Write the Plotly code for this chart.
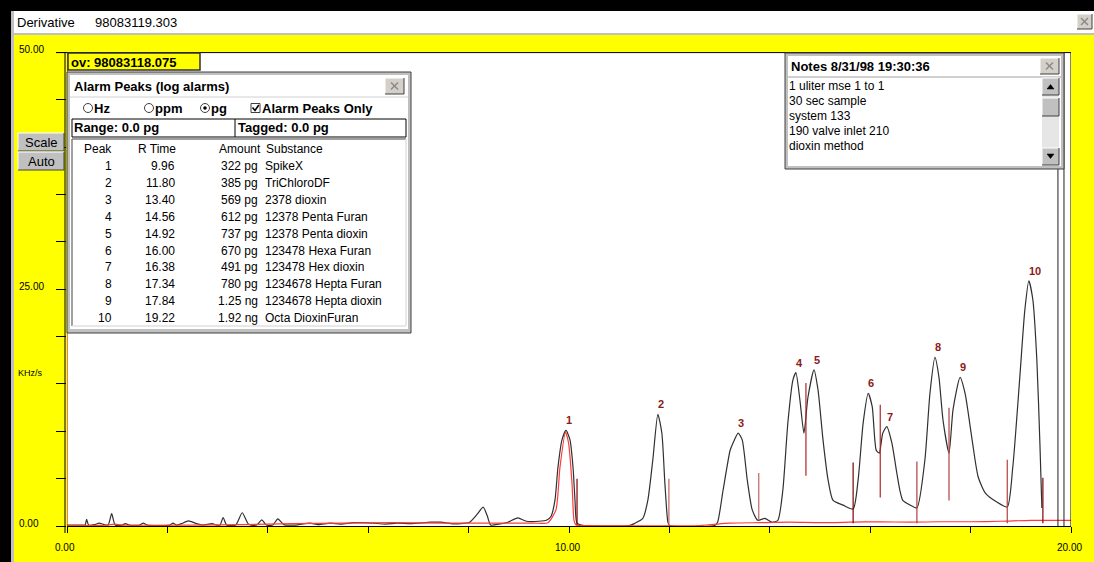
import plotly.graph_objects as go

W, H = 1094, 562
FONT = "Liberation Sans, Arial, sans-serif"
YELLOW = "#ffff00"
GRAY = "#c0c0c0"

# ---- chromatogram data (time in min, signal in KHz/s) ----
trace_t = [0.00, 0.30, 0.36, 0.39, 0.43, 0.55, 0.64, 0.74, 0.82, 0.89, 0.96, 1.10, 1.16, 1.24,
           1.45, 1.52, 1.60, 2.05, 2.11, 2.18, 2.28, 2.42, 2.58, 2.70, 2.89, 2.98, 3.05, 3.11,
           3.18, 3.36, 3.49, 3.62, 3.78, 3.88, 3.97, 4.10, 4.20, 4.32, 4.55, 4.84, 5.00, 5.24,
           5.45, 5.70, 5.90, 6.10, 6.35, 6.57, 6.85, 7.25, 7.45, 7.65, 7.83, 8.02, 8.18, 8.29,
           8.37, 8.44, 8.60, 8.78, 8.98, 9.15, 9.40, 9.55, 9.64, 9.72, 9.78, 9.86, 9.94, 10.02,
           10.08, 10.12, 10.16, 10.30, 11.20, 11.30, 11.47, 11.57, 11.67, 11.77, 11.85, 11.91,
           11.97, 12.00, 12.90, 12.96, 13.07, 13.21, 13.27, 13.37, 13.45, 13.55, 13.65, 13.76,
           13.90, 14.04, 14.16, 14.26, 14.36, 14.46, 14.52, 14.60, 14.68, 14.76, 14.88, 14.96,
           15.06, 15.16, 15.26, 15.46, 15.66, 15.76, 15.86, 15.96, 16.04, 16.12, 16.18, 16.25,
           16.33, 16.43, 16.53, 16.59, 16.65, 16.80, 16.93, 17.09, 17.19, 17.29, 17.37, 17.45,
           17.57, 17.65, 17.79, 17.89, 18.03, 18.15, 18.29, 18.53, 18.73, 18.84, 18.98, 19.08,
           19.16, 19.24, 19.32, 19.38, 19.42]
trace_v = [0.10, 0.10, 0.10, 0.70, 0.10, 0.15, 0.30, 0.15, 0.10, 1.30, 0.10, 0.10, 0.25, 0.10,
           0.10, 0.30, 0.10, 0.10, 0.30, 0.10, 0.25, 0.55, 0.25, 0.10, 0.25, 0.10, 0.10, 0.90,
           0.10, 0.10, 1.40, 0.15, 0.10, 0.65, 0.10, 0.10, 0.75, 0.15, 0.10, 0.30, 0.15, 0.30,
           0.20, 0.35, 0.35, 0.30, 0.20, 0.30, 0.25, 0.40, 0.40, 0.25, 0.25, 0.40, 1.30, 2.00,
           1.10, 0.10, 0.20, 0.40, 0.85, 0.50, 0.50, 0.60, 1.00, 2.70, 6.20, 9.10, 10.10, 9.10,
           6.20, 2.70, 0.30, 0.05, 0.05, 0.25, 0.80, 2.70, 7.00, 11.80, 9.80, 4.50,
           0.40, 0.05, 0.05, 0.40, 3.80, 8.00, 8.80, 9.80, 9.10, 4.90, 1.70, 0.60,
           0.80, 0.40, 0.60, 3.80, 10.90, 15.40, 16.20, 13.30, 9.80, 13.60, 16.50, 14.40,
           9.10, 4.90, 2.70, 2.20, 1.80, 4.90, 10.90, 14.00, 12.60, 8.00, 7.70, 9.80,
           10.50, 8.80, 5.60, 3.80, 2.70, 2.20, 1.90, 7.00, 14.00, 17.80, 15.70, 11.20,
           7.70, 12.30, 15.70, 14.00, 9.10, 5.20, 3.50, 2.50, 2.00, 6.20, 15.70, 22.80,
           25.90, 23.90, 17.50, 8.80, 1.90]

# overlay (reference run) trace
ref_t = [0.00, 0.80, 0.95, 1.10, 2.50, 3.50, 4.50, 5.50, 6.50, 7.50, 8.50, 9.30, 9.58, 9.74,
         9.82, 9.93, 9.99, 10.06, 10.10, 10.14, 10.40, 12.60, 13.20, 13.80, 14.40, 15.00,
         15.60, 16.20, 16.80, 17.40, 18.00, 18.60, 19.20, 19.80, 20.00]
ref_v = [0.05, 0.10, 0.20, 0.10, 0.10, 0.15, 0.25, 0.30, 0.35, 0.30, 0.30, 0.30, 0.35, 1.70,
         6.20, 9.90, 8.80, 4.50, 0.60, 0.10, 0.05, 0.05, 0.30, 0.35, 0.40, 0.35,
         0.40, 0.45, 0.40, 0.45, 0.45, 0.50, 0.60, 0.60, 0.60]

# integration boundary markers
marker_t = [10.16, 11.99, 13.78, 14.72, 15.66, 16.20, 16.93, 17.57, 18.73, 19.44]
marker_lo = [0.1, 0.1, 0.6, 5.3, 0.3, 3.0, 0.3, 2.7, 0.3, 0.3]
marker_hi = [5.0, 5.0, 5.6, 15.1, 6.7, 12.8, 6.8, 12.5, 7.0, 5.1]
marker_col = ["#800000", "#c06464", "#c06464", "#a82828", "#800000",
              "#a82828", "#b04040", "#b04040", "#b04040", "#800000"]

# peak apexes (label positions)
apex_t = [9.94, 11.77, 13.37, 14.52, 14.88, 15.96, 16.33, 17.29, 17.79, 19.16]
apex_v = [10.10, 11.80, 9.80, 16.20, 16.50, 14.00, 10.50, 17.80, 15.70, 25.90]

# end-of-run cursor lines
cursor_t = [19.74, 19.86]

# alarm peak table
peak_no = [1, 2, 3, 4, 5, 6, 7, 8, 9, 10]
r_time = [9.96, 11.80, 13.40, 14.56, 14.92, 16.00, 16.38, 17.34, 17.84, 19.22]
amount = ["322", "385", "569", "612", "737", "670", "491", "780", "1.25", "1.92"]
unit = ["pg", "pg", "pg", "pg", "pg", "pg", "pg", "pg", "ng", "ng"]
substance = ["SpikeX", "TriChloroDF", "2378 dioxin", "12378 Penta Furan", "12378 Penta dioxin",
             "123478 Hexa Furan", "123478 Hex dioxin", "1234678 Hepta Furan",
             "1234678 Hepta dioxin", "Octa DioxinFuran"]

notes = ["1 uliter mse 1 to 1", "30 sec sample", "system 133", "190 valve inlet 210",
         "dioxin method"]

x_ticks = list(range(0, 21, 2))
x_labels = [0, 10, 20]
y_ticks = list(range(0, 51, 5))
y_labels = [0, 25, 50]

# plot frame in window pixels
PL, PR, PT, PB = 67, 1071, 52.6, 526

fig = go.Figure()
# pixel frame for window furniture
fig.add_trace(go.Scatter(x=[], y=[], xaxis="x2", yaxis="y2", showlegend=False, hoverinfo="skip"))

fig.add_trace(go.Scatter(x=trace_t, y=trace_v, mode="lines", showlegend=False, hoverinfo="skip",
                         line=dict(color="#303030", width=1.2, shape="spline", smoothing=0.6)))
fig.add_trace(go.Scatter(x=ref_t, y=ref_v, mode="lines", showlegend=False, hoverinfo="skip",
                         line=dict(color="#ff3a3a", width=1.2, shape="spline", smoothing=0.6)))
for t, lo, hi, c in zip(marker_t, marker_lo, marker_hi, marker_col):
    fig.add_trace(go.Scatter(x=[t, t], y=[lo, hi], mode="lines", showlegend=False,
                             hoverinfo="skip", line=dict(color=c, width=1.2)))

shapes = []
ann = []


def box(x0, y0, x1, y1, fill, line="rgba(0,0,0,0)", lw=0, layer="above"):
    shapes.append(dict(type="rect", xref="x2", yref="y2", x0=x0, y0=y0, x1=x1, y1=y1,
                       fillcolor=fill, line=dict(color=line, width=lw), layer=layer))


def seg(x0, y0, x1, y1, color="black", w=1, layer="above"):
    shapes.append(dict(type="line", xref="x2", yref="y2", x0=x0, y0=y0, x1=x1, y1=y1,
                       line=dict(color=color, width=w), layer=layer))


def bevel(x0, y0, x1, y1, fill=GRAY):
    box(x0, y0, x1, y1, fill)
    seg(x0, y0, x1, y0, "white")
    seg(x0, y0, x0, y1, "white")
    seg(x0, y1, x1, y1, "#404040")
    seg(x1, y0, x1, y1, "#404040")


def txt(x, y, s, size=12, color="black", bold=False, anchor="left"):
    ann.append(dict(xref="x2", yref="y2", x=x, y=y, text=f"<b>{s}</b>" if bold else s,
                    showarrow=False, xanchor=anchor, yanchor="middle", borderpad=0,
                    font=dict(size=size, color=color, family=FONT)))


def close_btn(x0, y0, x1, y1):
    bevel(x0, y0, x1, y1, "#d4d0c8")
    cx, cy = (x0 + x1) / 2, (y0 + y1) / 2
    seg(cx - 3.5, cy - 3.5, cx + 3.5, cy + 3.5, "#8a8a8a", 1.5)
    seg(cx - 3.5, cy + 3.5, cx + 3.5, cy - 3.5, "#8a8a8a", 1.5)


# plot background
shapes.append(dict(type="rect", xref="x", yref="y", x0=0, x1=20, y0=0, y1=50,
                   fillcolor="white", line=dict(width=0), layer="below"))

# window edges and title bar
box(0, 0, W, 11, "black")
box(0, 0, 11, H, "black")
box(11, 11, 14, H, GRAY)
box(14, 11, W, 33, "white")
box(14, 33, W, 35, GRAY)
txt(16, 22, "Derivative", 13)
txt(94, 22, "98083119.303", 13)
close_btn(1077, 14, 1092, 29)

# plot frame lines
seg(56, PT, PR, PT, "black", 1)
seg(65, PT, 65, 533, "black", 1)
shapes.append(dict(type="line", xref="x", yref="y", x0=0, x1=0, y0=0, y1=50,
                   line=dict(color="#e02020", width=1.2), layer="above"))
shapes.append(dict(type="line", xref="x", yref="y", x0=20, x1=20, y0=0, y1=50,
                   line=dict(color="black", width=1), layer="above"))
for ct in cursor_t:
    shapes.append(dict(type="line", xref="x", yref="y", x0=ct, x1=ct, y0=0, y1=50,
                       line=dict(color="#202020", width=1), layer="above"))

# axis labels
for v in x_labels:
    ann.append(dict(xref="x", yref="y2", x=v, y=547, text=f"{v:.2f}", showarrow=False,
                    xanchor="center", yanchor="middle", xshift=-2,
                    font=dict(size=10, color="black", family=FONT)))
for v in y_labels:
    ann.append(dict(xref="x2", yref="y", x=17, y=v, text=f"{v:.2f}", showarrow=False,
                    xanchor="left", yanchor="middle", yshift=3,
                    font=dict(size=10, color="black", family=FONT)))
txt(17, 373, "KHz/s", 9)

# peak number labels
for n, t, v in zip(peak_no, apex_t, apex_v):
    ann.append(dict(xref="x", yref="y", x=t, y=v, text=f"<b>{n}</b>", showarrow=False,
                    xanchor="left", yanchor="middle", xshift=-2, yshift=10,
                    font=dict(size=11, color="#8b1a1a", family=FONT)))

# Scale / Auto buttons
bevel(18, 133, 64, 151)
txt(41, 142.5, "Scale", 13, anchor="center")
bevel(18, 152, 64, 170)
txt(41, 161.5, "Auto", 13, anchor="center")

# overlay id box
box(68, 53, 200, 70, YELLOW, "#303030", 1.5)
txt(70, 62, "ov: 98083118.075", 13, bold=True)

# ---- Alarm Peaks panel ----
box(67, 72, 411, 333, GRAY, "#404040", 1)
box(70, 75, 408, 329, "white")
txt(73, 86, "Alarm Peaks (log alarms)", 13, bold=True)
close_btn(385, 78, 404, 94)
seg(70, 97, 408, 97, "#d0d0d0", 1)
# unit selectors
for cx, label, on in [(88, "Hz", False), (149, "ppm", False), (205, "pg", True)]:
    shapes.append(dict(type="circle", xref="x2", yref="y2", x0=cx - 4.5, x1=cx + 4.5,
                       y0=103.5, y1=112.5, fillcolor="white",
                       line=dict(color="#404040", width=1), layer="above"))
    if on:
        shapes.append(dict(type="circle", xref="x2", yref="y2", x0=cx - 1.8, x1=cx + 1.8,
                           y0=106.2, y1=109.8, fillcolor="black", line=dict(width=0),
                           layer="above"))
    txt(cx + 5, 108, label, 13, bold=True)
box(251, 103.5, 260, 112.5, "white", "#404040", 1)
shapes.append(dict(type="path", xref="x2", yref="y2", path="M 252.5 107.5 L 255 110.5 L 258.8 105",
                   line=dict(color="black", width=1.6), layer="above"))
txt(261, 108, "Alarm Peaks Only", 13, bold=True)
# range / tagged
box(72, 119, 406, 137, "white", "black", 1)
seg(235, 119, 235, 137, "black", 1)
txt(73, 127.5, "Range: 0.0 pg", 13, bold=True)
txt(237, 127.5, "Tagged: 0.0 pg", 13, bold=True)
# list box
box(72, 139, 406, 326, "white")
seg(72, 139, 406, 139, "#808080", 1.5)
seg(72, 139, 72, 326, "#808080", 1.5)
seg(72, 326, 406, 326, "#e0e0e0", 1.5)
seg(406, 139, 406, 326, "#e0e0e0", 1.5)
txt(113, 149, "Peak", 12, anchor="right")
txt(177, 149, "R Time", 12, anchor="right")
txt(262, 149, "Amount", 12, anchor="right")
txt(265, 149, "Substance", 12)
for i, (n, rt, am, u, s) in enumerate(zip(peak_no, r_time, amount, unit, substance)):
    y = 166 + i * 16.9
    txt(113, y, str(n), 12, anchor="right")
    txt(176, y, f"{rt:.2f}", 12, anchor="right")
    txt(259, y, f"{am} {u}", 12, anchor="right")
    txt(264, y, s, 12)

# ---- Notes panel ----
box(785, 53, 1064, 169, GRAY, "#404040", 1)
box(788, 56, 1061, 166, "white")
txt(790, 66, "Notes 8/31/98 19:30:36", 13, bold=True)
close_btn(1040, 58, 1059, 74)
seg(788, 77, 1061, 77, "#a0a0a0", 1)
for i, line in enumerate(notes):
    txt(788, 86 + 15 * i, line, 12)
box(1042, 78, 1059, 165, "#e6e6e6")
bevel(1042, 78, 1059, 95)
bevel(1042, 98, 1059, 116)
bevel(1042, 148, 1059, 165)
shapes.append(dict(type="path", xref="x2", yref="y2", path="M 1047 89 L 1054 89 L 1050.5 84.5 Z",
                   fillcolor="black", line=dict(color="black", width=0.5), layer="above"))
shapes.append(dict(type="path", xref="x2", yref="y2", path="M 1047 154 L 1054 154 L 1050.5 158.5 Z",
                   fillcolor="black", line=dict(color="black", width=0.5), layer="above"))

fig.update_layout(
    width=W, height=H,
    margin=dict(l=0, r=0, t=0, b=0),
    paper_bgcolor=YELLOW,
    plot_bgcolor="rgba(0,0,0,0)",
    showlegend=False,
    xaxis=dict(domain=[PL / W, PR / W], range=[0, 20], showgrid=False, zeroline=False,
               showline=True, linecolor="black", linewidth=1, ticks="outside", ticklen=6,
               tickcolor="black", tickwidth=1, tickvals=x_ticks, showticklabels=False,
               anchor="y", fixedrange=True),
    yaxis=dict(domain=[(H - PB) / H, (H - PT) / H], range=[0, 50], showgrid=False,
               zeroline=False, showline=False, ticks="outside", ticklen=10, tickcolor="black",
               tickwidth=1, tickvals=y_ticks, showticklabels=False, anchor="x", fixedrange=True),
    xaxis2=dict(domain=[0, 1], range=[0, W], visible=False, anchor="y2", fixedrange=True),
    yaxis2=dict(domain=[0, 1], range=[H, 0], visible=False, anchor="x2", fixedrange=True),
    shapes=shapes,
    annotations=ann,
)

fig.write_html("out.html", config={"displayModeBar": False})
